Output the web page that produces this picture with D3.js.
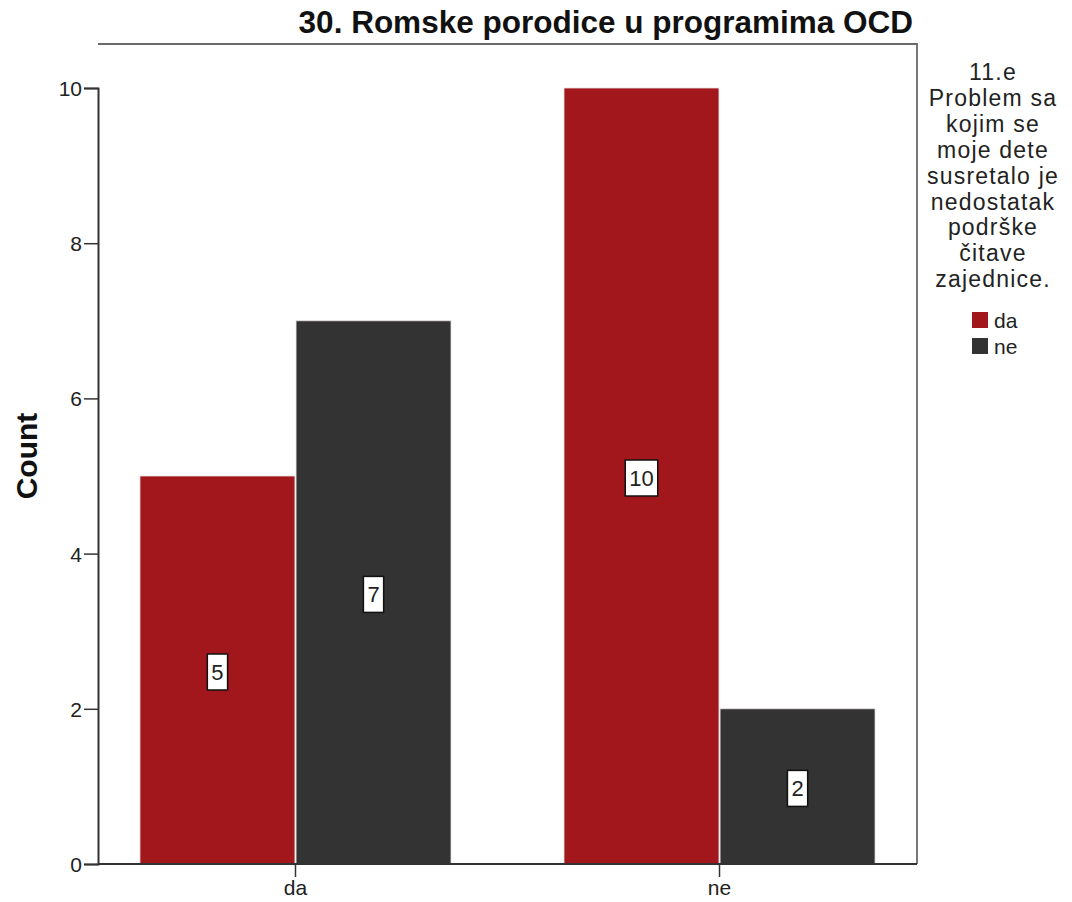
<!DOCTYPE html>
<html><head><meta charset="utf-8">
<script src="https://cdn.jsdelivr.net/npm/d3@7"></script>
<style>body{margin:0;background:#fff}svg{display:block}</style>
</head><body>
<svg id="c" width="1072" height="902"></svg>
<script>
const categories = ["da", "ne"];
const seriesNames = ["da", "ne"];
const seriesDa = [5, 10];
const seriesNe = [7, 2];
const yTicks = [0, 2, 4, 6, 8, 10];
const titleText = "30. Romske porodice u programima OCD";
const yLabel = "Count";
const legendTitle = ["11.e", "Problem sa", "kojim se", "moje dete", "susretalo je", "nedostatak", "podrške", "čitave", "zajednice."];
const colors = ["#a1171b", "#333333"];

const svg = d3.select("#c");
const L = 98, R = 917, T = 44, B = 864;
const font = "'Liberation Sans', Arial, sans-serif";

const x0 = d3.scaleBand().domain(categories).range([L, R]).paddingInner(0.2665).paddingOuter(0.099);
const x1 = d3.scaleBand().domain(seriesNames).range([0, x0.bandwidth()]).paddingInner(0.007);
const y = d3.scaleLinear().domain([0, 10]).range([B, 88]);
const color = d3.scaleOrdinal().domain(seriesNames).range(colors);

const data = categories.map((c, i) => ({cat: c, vals: [{s: "da", v: seriesDa[i]}, {s: "ne", v: seriesNe[i]}]}));

// frame top/right
svg.append("path").attr("d", `M${L},${T}H${R}V${B}`).attr("fill", "none").attr("stroke", "#6a6a6a").attr("stroke-width", 1.8);

// bars
const g = svg.append("g").selectAll("g").data(data).join("g").attr("transform", d => `translate(${x0(d.cat)},0)`);
g.selectAll("rect").data(d => d.vals).join("rect")
  .attr("x", d => x1(d.s)).attr("width", x1.bandwidth())
  .attr("y", d => y(d.v)).attr("height", d => B - y(d.v))
  .attr("fill", d => color(d.s)).attr("stroke", "#e8e0e0").attr("stroke-width", 0.8);

// value labels
const lab = g.selectAll("g.lab").data(d => d.vals).join("g").attr("class", "lab")
  .attr("transform", d => `translate(${x1(d.s) + x1.bandwidth() / 2},${(y(d.v) + B) / 2 + 2})`);
lab.each(function(d) {
  const gg = d3.select(this);
  const t = gg.append("text").text(d.v).attr("text-anchor", "middle").attr("dy", "0.36em")
    .attr("font-family", font).attr("font-size", 22).attr("fill", "#222");
  const w = t.node().getComputedTextLength();
  gg.insert("rect", "text").attr("x", -w / 2 - 4).attr("y", -18).attr("width", w + 8).attr("height", 36)
    .attr("fill", "#fff").attr("stroke", "#111").attr("stroke-width", 1.5);
});

// y axis
const ya = svg.append("g").attr("transform", `translate(${L},0)`)
  .call(d3.axisLeft(y).tickValues(yTicks).tickSize(14).tickPadding(2).tickFormat(d3.format("d")));
ya.select(".domain").attr("stroke", "#333").attr("stroke-width", 2);
ya.selectAll(".tick line").attr("stroke", "#333").attr("stroke-width", 1.5);
ya.selectAll("text").attr("font-family", font).attr("font-size", 21).attr("dy", "0.36em").attr("fill", "#222");

// x axis
const xa = svg.append("g").attr("transform", `translate(0,${B})`)
  .call(d3.axisBottom(x0).tickSize(13).tickPadding(3));
xa.select(".domain").attr("stroke", "#333").attr("stroke-width", 2).attr("d", `M${L},0H${R}`);
xa.selectAll(".tick line").attr("stroke", "#333").attr("stroke-width", 1.5);
xa.selectAll("text").attr("font-family", font).attr("font-size", 21).attr("fill", "#222");

// title
svg.append("text").text(titleText).attr("x", 913).attr("y", 33).attr("text-anchor", "end")
  .attr("font-family", font).attr("font-weight", "bold").attr("font-size", 31.5).attr("fill", "#111");

// y label
svg.append("text").text(yLabel).attr("transform", `translate(37,456) rotate(-90)`).attr("text-anchor", "middle")
  .attr("font-family", font).attr("font-weight", "bold").attr("font-size", 30).attr("fill", "#111");

// legend
const lg = svg.append("g");
lg.selectAll("text.lt").data(legendTitle).join("text").attr("class", "lt")
  .attr("x", 993).attr("y", (d, i) => 80 + i * 25.9).attr("text-anchor", "middle").text(d => d)
  .attr("font-family", font).attr("font-size", 23).attr("letter-spacing", 1.2).attr("fill", "#222");
const li = lg.selectAll("g.li").data(seriesNames).join("g").attr("class", "li")
  .attr("transform", (d, i) => `translate(972,${312 + i * 26})`);
li.append("rect").attr("width", 16).attr("height", 16).attr("fill", d => color(d));
li.append("text").attr("x", 22).attr("y", 16).text(d => d)
  .attr("font-family", font).attr("font-size", 21).attr("fill", "#222");
</script>
</body></html>
